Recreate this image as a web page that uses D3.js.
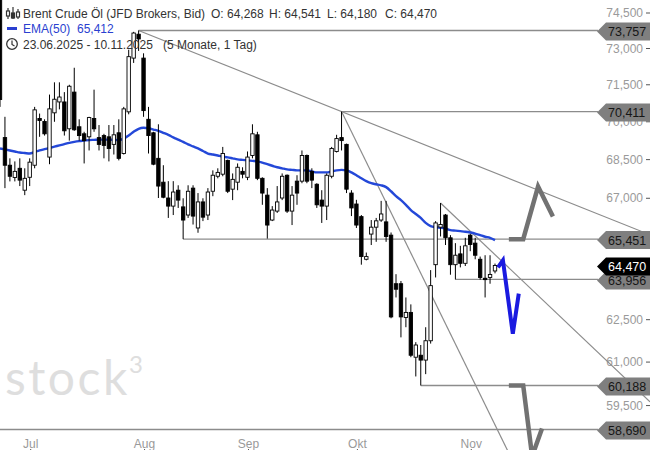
<!DOCTYPE html>
<html>
<head>
<meta charset="utf-8">
<script src="https://cdn.jsdelivr.net/npm/d3@7"></script>
<style>
body { margin:0; background:#fff; }
svg { display:block; font-family:"Liberation Sans", Arial, sans-serif; }
</style>
</head>
<body>
<div id="chart"></div>
<script>
var W = 650, H = 450

// daily candles, index 0 = 23.06.2025 ... index 100 = 10.11.2025
var opens  = [76.0,69.37,68.28,67.8,68.16,67.31,67.81,68.28,70.13,70.01,68.6,70.36,70.8,70.8,69.72,71.2,69.8,69.52,69.4,70.13,
  69.37,69.45,69.4,69.1,69.56,68.74,70.4,72.6,73.6,72.6,70.1,69.56,68.55,67.62,67.01,66.7,67.31,66.67,66.36,67.39,
  65.87,66.86,66.36,67.27,67.85,67.93,68.47,67.35,67.62,68.04,67.81,68.66,69.48,67.77,67.12,66.17,66.51,67.01,67.89,66.51,
  67.66,67.66,68.66,68.04,67.54,66.93,66.7,67.85,68.82,69.37,69.1,67.2,66.78,66.3,64.7,65.64,65.9,66.17,66.1,65.6,
  63.8,63.8,62.58,62.76,61.17,61.24,61.07,61.75,64.5,65.9,66.36,65.5,64.5,64.9,64.55,65.6,65.3,64.7,64.0,64.03,64.268]
var highs  = [77.0,70.2,68.55,68.43,68.55,68.16,68.55,70.6,70.33,70.1,71.1,71.6,71.6,71.2,71.5,72.2,70.1,69.6,70.2,71.3,
  69.87,69.52,69.87,69.87,70.1,70.6,72.95,73.7,73.757,72.8,70.6,69.6,69.9,68.28,67.66,67.66,67.5,67.0,67.5,67.5,
  67.2,67.0,67.39,68.08,68.16,69.0,68.5,67.96,68.35,68.2,68.82,69.9,69.6,67.81,67.39,66.7,67.47,67.96,67.92,67.47,
  67.89,68.86,68.7,68.16,67.58,67.31,67.96,69.0,69.48,70.411,69.13,67.31,66.94,66.36,64.95,66.17,66.25,66.9,66.9,65.7,
  64.15,63.9,63.3,63.05,61.7,61.6,62.23,64.3,66.13,66.82,66.4,65.6,65.3,65.2,65.5,65.65,65.5,64.8,64.85,64.85,64.541]
var lows   = [70.6,67.39,67.65,67.65,67.47,67.12,67.47,68.16,69.4,69.45,68.32,70.0,70.5,69.45,69.25,69.64,69.25,68.35,68.86,69.6,
  68.86,68.55,68.43,68.7,68.47,68.7,70.3,72.4,72.9,70.2,68.74,68.28,67.01,67.0,66.25,66.36,66.63,65.451,66.25,66.0,
  65.69,66.13,66.17,67.08,67.77,67.85,67.2,66.93,67.31,67.77,67.7,68.55,67.7,66.75,65.47,66.13,66.44,66.93,66.44,65.98,
  66.75,67.58,67.58,67.39,66.63,66.06,66.17,67.77,68.78,68.86,67.2,66.32,65.87,64.5,64.66,65.23,65.35,66.1,65.35,62.55,
  63.3,61.87,62.23,61.17,60.5,60.188,60.58,61.65,64.03,65.55,65.23,64.13,63.956,64.4,64.45,65.0,64.7,63.95,63.3,63.8,64.18]
var closes = [70.9,68.28,67.85,68.04,67.7,67.77,68.4,70.48,70.05,69.52,70.52,70.91,71.0,69.64,71.44,69.68,69.45,69.25,70.17,69.72,
  69.1,69.06,68.94,69.48,68.55,70.52,72.66,73.65,73.4,70.45,69.45,68.32,67.47,67.04,66.7,67.24,66.93,66.17,67.27,66.32,
  66.86,66.28,67.24,67.89,68.0,68.74,67.27,67.73,68.2,67.93,68.6,69.52,67.77,67.2,65.98,66.55,66.86,67.85,66.51,67.12,
  67.2,68.66,67.66,67.7,66.75,66.7,67.89,68.94,69.33,69.25,67.35,66.63,65.98,64.8,64.8,65.9,66.14,66.4,65.55,62.6,
  63.6,62.6,62.76,61.24,61.6,61.07,61.75,63.73,66.06,66.0,65.5,64.5,64.85,64.55,65.2,65.25,64.85,64.03,63.95,64.14,64.47]
var ema50  = [68.94,68.90,68.86,68.82,68.78,68.76,68.74,68.80,68.86,68.91,68.96,69.01,69.06,69.11,69.16,69.20,69.23,69.25,69.27,69.28,
  69.29,69.29,69.29,69.28,69.27,69.33,69.45,69.60,69.72,69.76,69.74,69.69,69.64,69.56,69.48,69.38,69.29,69.20,69.10,69.02,
  68.94,68.84,68.74,68.70,68.66,68.62,68.59,68.55,68.51,68.49,68.47,68.45,68.43,68.38,68.32,68.26,68.20,68.16,68.12,68.10,
  68.08,68.08,68.08,68.04,68.00,68.00,68.00,68.04,68.08,68.10,68.08,68.00,67.89,67.77,67.66,67.58,67.54,67.50,67.43,67.27,
  67.08,66.93,66.75,66.55,66.40,66.25,66.06,65.94,65.90,65.88,65.85,65.79,65.77,65.75,65.73,65.70,65.66,65.60,65.54,65.50,65.412]

var months = ["Jul","Aug","Sep","Okt","Nov"]
var monthIdx = [6,29,50,72,95]
var priceTicks = [74.5,73,71.5,70,68.5,67,65.5,64,62.5,61,59.5]

// horizontal levels and the candle they start from
var levels = [73.757,70.411,65.451,63.956,60.188,58.690]
var levelStart = [28,69,37,92,85,-5]
var lastClose = 64.470

// trend lines: two anchors [index, price], extended to the right
var trendA = [[28,73.757],[69,70.411]]
var trendB = [[69,70.411],[97.6,59.67]]
var trendC = [[89,66.82],[109.1,63.3]]

// hand drawn scenario arrows
var arrowUp = [[102.8,65.45],[105.7,65.45],[108.7,67.45],[111.7,66.3]]
var arrowDown = [[102.8,60.19],[105.7,60.19],[107.5,57.8],[109.5,58.72]]
var arrowBlue = [[100.6,64.4],[101.6,64.66],[103.6,62.0],[104.8,63.44]]

var de = d3.formatLocale({decimal:",", thousands:".", grouping:[3], currency:["","€"]})
var fmt = de.format(".3f")

var x = d3.scaleLinear().domain([0,100]).range([0,495])
var y = d3.scaleLog().domain([74.5,58.69]).range([13,429.5])

var svg = d3.select("#chart").append("svg").attr("width",W).attr("height",H)

// watermark
var wm = svg.append("text").attr("x",5).attr("y",395)
  .style("font-family","Lato, 'Open Sans', sans-serif").style("font-size","48px")
  .style("letter-spacing","2.5px").style("fill","#dedede").text("stock")
wm.append("tspan").attr("dy",-22).attr("dx",-1).style("font-size","24px").text("3")

// price axis labels
svg.selectAll(".ptick").data(priceTicks).enter().append("text")
  .attr("x",643).attr("y",function(d){ return y(d)+4 })
  .attr("text-anchor","end").style("font-size","12px").style("fill","#9a9a9a")
  .text(function(d){ return fmt(d) })
svg.selectAll(".pdash").data(priceTicks).enter().append("line")
  .attr("x1",646).attr("x2",650)
  .attr("y1",function(d){ return y(d) }).attr("y2",function(d){ return y(d) })
  .style("stroke","#555").style("stroke-width",1)

// month labels
svg.selectAll(".mlab").data(months).enter().append("text")
  .attr("x",function(d,i){ return x(monthIdx[i])+1 }).attr("y",448)
  .attr("text-anchor","middle").style("font-size","12px").style("fill","#9a9a9a")
  .text(function(d){ return d })
svg.selectAll(".mtick").data(monthIdx).enter().append("line")
  .attr("x1",function(d){ return x(d)+1 }).attr("x2",function(d){ return x(d)+1 })
  .attr("y1",449).attr("y2",450).style("stroke","#555")

// horizontal levels
svg.selectAll(".lvl").data(levels).enter().append("line")
  .attr("x1",function(d,i){ return Math.max(0,x(levelStart[i])) }).attr("x2",598)
  .attr("y1",function(d){ return y(d) }).attr("y2",function(d){ return y(d) })
  .style("stroke","#8c8c8c").style("stroke-width",1.3)

// trend lines
function trendPath(t){
  var x1 = x(t[0][0]), y1 = y(t[0][1]), x2 = x(t[1][0]), y2 = y(t[1][1])
  var k = (y2-y1)/(x2-x1)
  return [[x1,y1],[W,y1+(W-x1)*k]]
}
svg.selectAll(".trend").data([trendA,trendB,trendC]).enter().append("path")
  .attr("d",function(d){ return d3.line()(trendPath(d)) })
  .style("fill","none").style("stroke","#8c8c8c").style("stroke-width",1.2)

// EMA 50
svg.append("path").datum(ema50)
  .attr("d",d3.line().x(function(d,i){ return x(i) }).y(function(d){ return y(d) }).curve(d3.curveMonotoneX))
  .style("fill","none").style("stroke","#2448d8").style("stroke-width",2.4)

// candles
var idx = d3.range(opens.length)
var bw = 3.4
svg.selectAll(".wick").data(idx).enter().append("line")
  .attr("x1",function(i){ return x(i) }).attr("x2",function(i){ return x(i) })
  .attr("y1",function(i){ return y(highs[i]) }).attr("y2",function(i){ return y(lows[i]) })
  .style("stroke","#000").style("stroke-width",1)
svg.selectAll(".body").data(idx).enter().append("rect")
  .attr("x",function(i){ return x(i)-bw/2 }).attr("width",bw)
  .attr("y",function(i){ return y(Math.max(opens[i],closes[i])) })
  .attr("height",function(i){ return Math.max(1,Math.abs(y(opens[i])-y(closes[i]))) })
  .style("fill",function(i){ return closes[i] >= opens[i] ? "#fff" : "#000" })
  .style("stroke","#000").style("stroke-width",0.9)

// scenario arrows
var aLine = d3.line().x(function(d){ return x(d[0]) }).y(function(d){ return y(d[1]) })
svg.append("path").attr("d",aLine(arrowUp)).style("fill","none")
  .style("stroke","#727272").style("stroke-width",4.5).style("stroke-linejoin","miter")
svg.append("path").attr("d",aLine(arrowDown)).style("fill","none")
  .style("stroke","#727272").style("stroke-width",4.5).style("stroke-linejoin","miter")
svg.append("path").attr("d",aLine(arrowBlue)).style("fill","none")
  .style("stroke","#1a1ae0").style("stroke-width",4).style("stroke-linejoin","miter")

// price tags
function tag(v, dy, fill, tfill){
  var c = y(v)+dy
  var g = svg.append("g")
  g.append("path").attr("d","M597,"+c+"L606,"+(c-9)+"L650,"+(c-9)+"L650,"+(c+9)+"L606,"+(c+9)+"Z")
    .style("fill",fill)
  g.append("text").attr("x",608).attr("y",c+4.5).style("font-size","12.5px").style("fill",tfill).text(fmt(v))
}
levels.forEach(function(v){ tag(v,1,"#7f7f7f","#161616") })
tag(lastClose,1,"#000","#fff")

// header
var hdr = svg.append("g").style("font-size","12px").style("fill","#333")
// candle icon
var ic = hdr.append("g").style("stroke","#333").style("stroke-width",1.2)
ic.append("line").attr("x1",8).attr("x2",8).attr("y1",8).attr("y2",19)
ic.append("line").attr("x1",13).attr("x2",13).attr("y1",7).attr("y2",19)
ic.append("line").attr("x1",18).attr("x2",18).attr("y1",9).attr("y2",19)
ic.append("rect").attr("x",6.5).attr("y",11).attr("width",3).attr("height",5).style("fill","#fff")
ic.append("rect").attr("x",11.5).attr("y",13).attr("width",3).attr("height",5).style("fill","#333")
ic.append("rect").attr("x",16.5).attr("y",12).attr("width",3).attr("height",5).style("fill","#fff")
hdr.append("text").attr("x",23).attr("y",17.5).text("Brent Crude Öl (JFD Brokers, Bid)")
hdr.append("text").attr("x",211).attr("y",17.5).text("O: 64,268")
hdr.append("text").attr("x",269).attr("y",17.5).text("H: 64,541")
hdr.append("text").attr("x",327).attr("y",17.5).text("L: 64,180")
hdr.append("text").attr("x",385).attr("y",17.5).text("C: 64,470")
hdr.append("rect").attr("x",7).attr("y",27).attr("width",10).attr("height",3).style("fill","#2a3fd0")
hdr.append("text").attr("x",23).attr("y",33).style("fill","#2a3fd0").text("EMA(50)")
hdr.append("text").attr("x",77).attr("y",33).style("fill","#2a3fd0").text("65,412")
hdr.append("circle").attr("cx",12).attr("cy",44).attr("r",5.3).style("fill","none").style("stroke","#333").style("stroke-width",1.3)
hdr.append("path").attr("d","M12,40.5V44.5L14.5,46").style("fill","none").style("stroke","#333").style("stroke-width",1.2)
hdr.append("text").attr("x",23).attr("y",48.5).text("23.06.2025 - 10.11.2025")
hdr.append("text").attr("x",163).attr("y",48.5).text("(5 Monate, 1 Tag)")
</script>
</body>
</html>
